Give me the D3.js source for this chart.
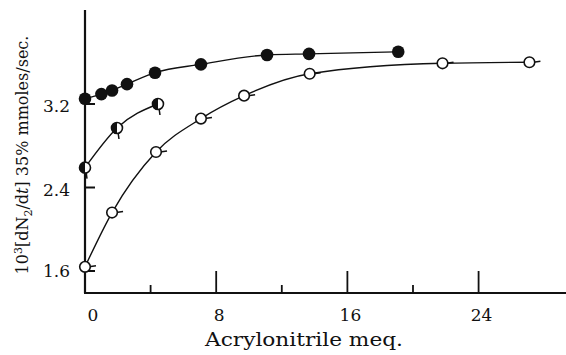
<!DOCTYPE html>
<html>
<head>
<meta charset="utf-8">
<script src="https://cdn.jsdelivr.net/npm/d3@7"></script>
<style>
  body { margin: 0; background: #fff; }
  text { font-family: "DejaVu Serif", "Liberation Serif", serif; fill: #111; }
</style>
</head>
<body>
<div id="chart"></div>
<script>
// data (x = acrylonitrile meq., y = rate)
var filledX = [0, 1.0, 1.65, 2.56, 4.27, 7.07, 11.1, 13.66, 19.1];
var filledY = [3.25, 3.295, 3.33, 3.39, 3.50, 3.58, 3.67, 3.68, 3.70];

var halfX = [0, 1.95, 4.45];
var halfY = [2.59, 2.97, 3.20];

var openX = [0, 1.65, 4.33, 7.07, 9.7, 13.7, 21.8, 27.1];
var openY = [1.64, 2.16, 2.74, 3.06, 3.28, 3.49, 3.59, 3.60];

var xMajorTicks = [0, 8, 16, 24];
var xMinorTicks = [4, 12, 20];
var yTicks = [1.6, 2.4, 3.2];

var svgWidth = 566;
var svgHeight = 355;

var svg = d3.select("#chart").append("svg")
    .attr("width", svgWidth)
    .attr("height", svgHeight);

// x = 0 sits on the axis line at 85px, 16.4 px per unit
var xScale = d3.scaleLinear().domain([0, 29.33]).range([85, 566]);
var yScale = d3.scaleLinear().domain([1.6, 3.2]).range([271, 104]);
var yBottom = 293;
var yTop = 10;

// axes lines
svg.append("line")
    .attr("x1", xScale(0)).attr("x2", xScale(0))
    .attr("y1", yTop).attr("y2", yBottom)
    .attr("stroke", "#111").attr("stroke-width", 2.2);
svg.append("line")
    .attr("x1", xScale(0) - 1).attr("x2", 566)
    .attr("y1", yBottom).attr("y2", yBottom)
    .attr("stroke", "#111").attr("stroke-width", 2.2);

// x ticks pointing up
svg.selectAll(".xmajor").data(xMajorTicks.filter(d => d > 0)).enter()
    .append("line")
    .attr("x1", d => xScale(d)).attr("x2", d => xScale(d))
    .attr("y1", yBottom).attr("y2", yBottom - 22)
    .attr("stroke", "#111").attr("stroke-width", 1.8);
svg.selectAll(".xminor").data(xMinorTicks).enter()
    .append("line")
    .attr("x1", d => xScale(d)).attr("x2", d => xScale(d))
    .attr("y1", yBottom).attr("y2", yBottom - 8)
    .attr("stroke", "#111").attr("stroke-width", 1.8);

// y ticks pointing right
svg.selectAll(".ytick").data(yTicks).enter()
    .append("line")
    .attr("x1", xScale(0)).attr("x2", xScale(0) + 10)
    .attr("y1", d => yScale(d)).attr("y2", d => yScale(d))
    .attr("stroke", "#111").attr("stroke-width", 2);

// tick labels
svg.selectAll(".xlab").data(xMajorTicks).enter()
    .append("text")
    .attr("x", d => xScale(d) + (d === 0 ? 8 : 3))
    .attr("y", 321)
    .attr("text-anchor", "middle")
    .style("font-size", "17px")
    .text(d => d);

svg.selectAll(".ylab").data(yTicks).enter()
    .append("text")
    .attr("x", 70)
    .attr("y", d => yScale(d) + 8 + (d === 1.6 ? -2 : 0))
    .attr("text-anchor", "end")
    .style("font-size", "17px")
    .text(d => d.toFixed(1));

// axis titles
svg.append("text")
    .attr("x", 205)
    .attr("y", 346)
    .attr("textLength", 198)
    .attr("lengthAdjust", "spacingAndGlyphs")
    .style("font-size", "19px")
    .text("Acrylonitrile meq.");

var yTitle = svg.append("text")
    .attr("transform", "translate(28, 155) rotate(-90)")
    .attr("text-anchor", "middle")
    .style("font-size", "16px");
yTitle.append("tspan").text("10");
yTitle.append("tspan").attr("dy", -6).style("font-size", "11px").text("3");
yTitle.append("tspan").attr("dy", 6).text("[dN");
yTitle.append("tspan").attr("dy", 4).style("font-size", "11px").text("2");
yTitle.append("tspan").attr("dy", -4).text("/d");
yTitle.append("tspan").style("font-style", "italic").text("t");
yTitle.append("tspan").text("] 35% mmoles/sec.");

// curves
var line = d3.line()
    .x(d => xScale(d[0]))
    .y(d => yScale(d[1]))
    .curve(d3.curveMonotoneX);

function drawSeries(xs, ys) {
    svg.append("path")
        .datum(xs.map((x, i) => [x, ys[i]]))
        .attr("d", line)
        .attr("fill", "none")
        .attr("stroke", "#111")
        .attr("stroke-width", 1.4);
}
drawSeries(filledX, filledY);
drawSeries(halfX, halfY);
drawSeries(openX, openY);

// open circles with a short flag to the right
var openPts = openX.map((x, i) => [x, openY[i]]);
svg.selectAll(".oflag").data(openPts).enter()
    .append("line")
    .attr("x1", d => xScale(d[0]) + 4).attr("x2", d => xScale(d[0]) + 11)
    .attr("y1", d => yScale(d[1])).attr("y2", d => yScale(d[1]) - 1)
    .attr("stroke", "#111").attr("stroke-width", 1.5);
svg.selectAll(".open").data(openPts).enter()
    .append("circle")
    .attr("cx", d => xScale(d[0]))
    .attr("cy", d => yScale(d[1]))
    .attr("r", 5.3)
    .attr("fill", "#fff")
    .attr("stroke", "#111")
    .attr("stroke-width", 1.6);

// half filled circles with a short tail down
var halfPts = halfX.map((x, i) => [x, halfY[i]]);
svg.selectAll(".hflag").data(halfPts).enter()
    .append("line")
    .attr("x1", d => xScale(d[0]) + 1).attr("x2", d => xScale(d[0]) + 2)
    .attr("y1", d => yScale(d[1]) + 4).attr("y2", d => yScale(d[1]) + 11)
    .attr("stroke", "#111").attr("stroke-width", 1.5);
var hg = svg.selectAll(".half").data(halfPts).enter().append("g")
    .attr("transform", d => `translate(${xScale(d[0])}, ${yScale(d[1])})`);
hg.append("circle").attr("r", 5.5).attr("fill", "#fff")
    .attr("stroke", "#111").attr("stroke-width", 1.6);
hg.append("path")
    .attr("d", d3.arc()({innerRadius: 0, outerRadius: 5.5, startAngle: Math.PI, endAngle: 2 * Math.PI}))
    .attr("fill", "#111");

// filled dots
svg.selectAll(".filled").data(filledX.map((x, i) => [x, filledY[i]])).enter()
    .append("circle")
    .attr("cx", d => xScale(d[0]))
    .attr("cy", d => yScale(d[1]))
    .attr("r", 6.3)
    .attr("fill", "#111");
</script>
</body>
</html>
